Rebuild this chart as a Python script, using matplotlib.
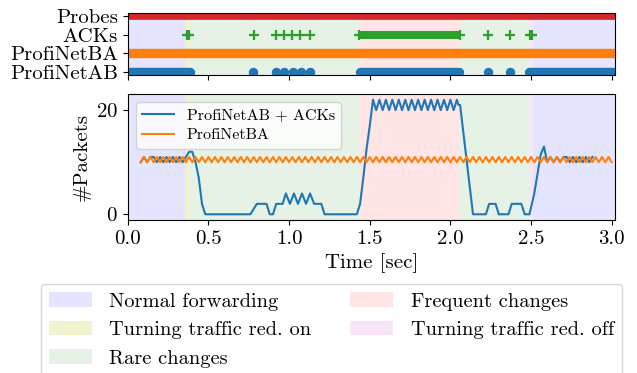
import numpy as np
import matplotlib
matplotlib.use("Agg")
import matplotlib.pyplot as plt
from matplotlib.patches import Patch

plt.rcParams.update({
    "font.family": "cmr10",
    "mathtext.fontset": "cm",
    "axes.unicode_minus": False,
    "font.size": 15,
    "axes.formatter.use_mathtext": True,
})

# ---------------- data ----------------
phase_names = ["Normal forwarding", "Turning traffic red. on", "Rare changes",
               "Frequent changes", "Turning traffic red. off"]
phase_colors = ["blue", "y", "g", "r", "m"]
phase_alpha = [0.1, 0.2, 0.1, 0.1, 0.1]
phase_start = [0.0, 0.36, 0.38, 1.433, 2.058, 2.487, 2.51]
phase_end = [0.36, 0.38, 1.433, 2.058, 2.487, 2.51, 3.05]
phase_kind = [0, 1, 2, 3, 2, 4, 0]

top_labels = ["ProfiNetAB", "ProfiNetBA", "ACKs", "Probes"]

# dense packet trains (start, end) and isolated packets
probes_dense = [(-0.1, 3.1)]
ba_dense = [(-0.1, 3.1)]
ab_dense = [(-0.1, 0.385), (1.44, 2.055), (2.49, 3.1)]
ab_single = [0.778, 0.919, 0.968, 1.022, 1.072, 1.13, 2.231, 2.37]
ack_dense = [(1.435, 2.06)]
ack_single = [0.368, 0.38, 0.78, 0.918, 0.967, 1.02, 1.07, 1.128,
              1.435, 2.06, 2.235, 2.37, 2.492, 2.505]

# packets per window (bottom panel)
ba_t = np.round(np.arange(0.08, 3.001, 0.02), 2)
ba_v = [10, 11, 10, 11, 10, 11, 10, 11, 10, 11, 10, 11, 10, 11, 10, 11, 10, 11, 10, 11,
        10, 11, 10, 11, 10, 11, 10, 11, 10, 11, 10, 11, 10, 11, 10, 11, 10, 11, 10, 11,
        10, 11, 10, 11, 10, 11, 10, 11, 10, 11, 10, 11, 10, 11, 10, 11, 10, 11, 10, 11,
        10, 11, 10, 11, 10, 11, 10, 11, 10, 11, 10, 11, 10, 11, 10, 11, 10, 11, 10, 11,
        10, 11, 10, 11, 10, 11, 10, 11, 10, 11, 10, 11, 10, 11, 10, 11, 10, 11, 10, 11,
        10, 11, 10, 11, 10, 11, 10, 11, 10, 11, 10, 11, 10, 11, 10, 11, 10, 11, 10, 11,
        10, 11, 10, 11, 10, 11, 10, 11, 10, 11, 10, 11, 10, 11, 10, 11, 10, 11, 10, 11,
        10, 11, 10, 11, 10, 11, 10]

ab_t = [0.08, 0.10, 0.12, 0.14, 0.16, 0.18, 0.20, 0.22, 0.24, 0.26, 0.28, 0.30, 0.32, 0.34,
        0.36, 0.38, 0.40, 0.42, 0.44, 0.46, 0.48, 0.76, 0.80, 0.86, 0.88, 0.90, 0.92, 0.96,
        0.98, 1.005, 1.03, 1.055, 1.08, 1.105, 1.13, 1.155, 1.20, 1.22, 1.42, 1.44, 1.46,
        1.48, 1.50,
        1.52, 1.54, 1.56, 1.58, 1.60, 1.62, 1.64, 1.66, 1.68, 1.70, 1.72, 1.74, 1.76, 1.78,
        1.80, 1.82, 1.84, 1.86, 1.88, 1.90, 1.92, 1.94, 1.96, 1.98, 2.00, 2.02, 2.04,
        2.05, 2.06, 2.14, 2.22, 2.24, 2.28, 2.30, 2.36, 2.38, 2.44, 2.46, 2.49, 2.52, 2.56,
        2.58, 2.60, 2.62, 2.64, 2.66, 2.68, 2.70, 2.72, 2.74, 2.76, 2.78, 2.80, 2.82, 2.84,
        2.86, 2.88]
ab_v = [10, 11, 10, 11, 11, 10, 11, 10, 11, 10, 11, 10, 11, 10,
        11, 12, 12, 10, 7, 2, 0, 0, 2, 2, 0, 0, 2, 2,
        4, 2, 4, 2, 4, 2, 4, 2, 2, 0, 0, 2, 7,
        12.5, 17,
        22, 20, 22, 20, 22, 20, 22, 20, 22, 20, 22, 20, 22, 20,
        22, 20, 22, 20, 22, 20, 22, 20, 22, 20, 22, 20, 22,
        21, 21, 0, 0, 2, 2, 0, 0, 2, 2, 0, 0, 4, 11.5,
        13, 10, 11, 10, 11, 10, 11, 11, 10, 11, 10, 11, 10, 11,
        10, 11]

# ---------------- figure ----------------
fig = plt.figure(figsize=(6.37, 3.73), dpi=100)
ax1 = fig.add_axes([0.2006, 0.7981, 0.7653, 0.1662])
ax2 = fig.add_axes([0.2006, 0.4102, 0.7653, 0.3378])

for ax in (ax1, ax2):
    for s, e, k in zip(phase_start, phase_end, phase_kind):
        ax.axvspan(s, e, color=phase_colors[k], alpha=phase_alpha[k], lw=0, zorder=0)

# top panel
def dense(ax, intervals, y, color, lw, cap):
    for s, e in intervals:
        ax.plot([s, e], [y, y], color=color, lw=lw, solid_capstyle=cap, zorder=2)

dense(ax1, probes_dense, 3, "#d62728", 4.8, "butt")
dense(ax1, ba_dense, 1, "#ff7f0e", 6.8, "butt")
dense(ax1, ab_dense, 0, "#1f77b4", 6.8, "round")
ax1.plot(ab_single, [0] * len(ab_single), "o", color="#1f77b4", ms=6.8, mew=0, zorder=2)
dense(ax1, ack_dense, 2, "#2ca02c", 5.8, "butt")
ax1.plot(ack_single, [2] * len(ack_single), "+", color="#2ca02c", ms=6.5, mew=1.6, zorder=3)

ax1.set_xlim(0, 3.022)
ax1.set_ylim(-0.17, 3.13)
ax1.set_yticks(range(len(top_labels)))
ax1.set_yticklabels(top_labels)
ax1.set_xticks([0.0, 0.5, 1.0, 1.5, 2.0, 2.5, 3.0])
ax1.tick_params(axis="x", labelbottom=False)

# bottom panel
ax2.plot(ab_t, ab_v, color="#1f77b4", lw=1.5, label="ProfiNetAB + ACKs", zorder=2)
ax2.plot(ba_t, ba_v, color="#ff7f0e", lw=1.5, label="ProfiNetBA", zorder=3)
ax2.set_xlim(0, 3.022)
ax2.set_ylim(-1.1, 23.1)
ax2.set_yticks([0, 20])
ax2.set_xticks([0.0, 0.5, 1.0, 1.5, 2.0, 2.5, 3.0])
ax2.set_xticklabels(["0.0", "0.5", "1.0", "1.5", "2.0", "2.5", "3.0"])
ax2.set_xlabel("Time [sec]")
ax2.set_ylabel("#Packets")
ax2.legend(loc="upper left", fontsize=11.5, labelspacing=0.35)

handles = [Patch(facecolor=phase_colors[i], alpha=phase_alpha[i], edgecolor="none")
           for i in range(len(phase_names))]
fig.legend(handles, phase_names, ncol=2, loc="upper left",
           bbox_to_anchor=(41 / 637, 1 - 288 / 373, 581 / 637, 0.01), mode="expand",
           borderaxespad=0, handlelength=2.1, handletextpad=0.85, fontsize=14.7)

fig.savefig("out.png", dpi=100)
